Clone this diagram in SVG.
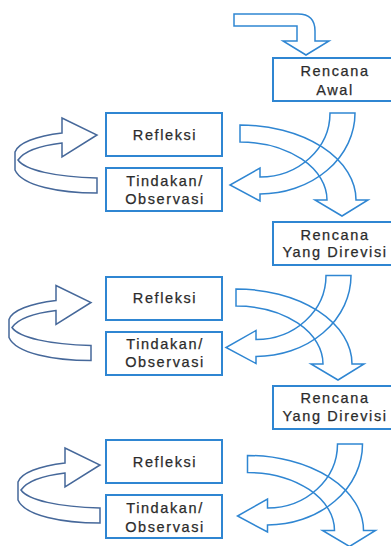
<svg xmlns="http://www.w3.org/2000/svg" width="391" height="546" viewBox="0 0 391 546">
<style>
.box{fill:#fff;stroke:#2f86d2;stroke-width:2}
.t{font-family:"Liberation Sans",Arial,sans-serif;font-size:14.5px;fill:#2b2b2b;stroke:#2b2b2b;stroke-width:0.25;text-anchor:middle;letter-spacing:1.6px}
.ar{fill:none;stroke:#2f86d2;stroke-width:1.5;stroke-linejoin:miter}
.lp{fill:none;stroke:#46689a;stroke-width:1.5;stroke-linejoin:miter}
</style>
<defs>
<path id="arrA" d="M240,125 A116,75 0 0 1 356,200 L368,200 L342,216 L315,200 L327,200 A87,58 0 0 0 240,142 Z"/>
<path id="arrB" d="M330,113 L355,113 A95,81 0 0 1 260,194 L260,201 L230,185 L260,168 L260,177 A70,64 0 0 0 330,113 Z"/>
<path id="loop" d="M62,133 C36,136 18,143 15,152 L15,170 C22,186 60,193 97,193 L97,178 C55,177 25,170 18,160 C25,150 45,145 62,143 L62,157 L97,135 L62,118 Z"/>
</defs>
<g id="connectors">
<path class="ar" d="M234,14 L298,14 Q315,14 315,31 L315,41 L329,41 L306,55 L283,41 L297,41 L297,26 L234,26 Z"/>
<use href="#arrA" class="ar"/>
<use href="#arrB" class="ar"/>
<use href="#loop" class="lp"/>
<use href="#arrA" class="ar" transform="translate(-4,164)"/>
<use href="#arrB" class="ar" transform="translate(-4,162.5)"/>
<use href="#loop" class="lp" transform="translate(-6,167.5)"/>
<use href="#arrA" class="ar" transform="translate(7.5,330.5)"/>
<use href="#arrB" class="ar" transform="translate(7.5,331)"/>
<use href="#loop" class="lp" transform="translate(3,330)"/>
</g>
<g id="rencana-awal">
<rect class="box" x="273" y="58" width="130" height="43"/>
<text class="t" x="335" y="76">Rencana</text>
<text class="t" x="335" y="95">Awal</text>
</g>
<g id="refleksi-1">
<rect class="box" x="106" y="113" width="116" height="43"/>
<text class="t" x="165" y="140">Refleksi</text>
</g>
<g id="tindakan-1">
<rect class="box" x="106" y="168" width="116" height="43"/>
<text class="t" x="165" y="186">Tindakan/</text>
<text class="t" x="165" y="204">Observasi</text>
</g>
<g id="rencana-2">
<rect class="box" x="273" y="222" width="130" height="43"/>
<text class="t" x="335" y="240">Rencana</text>
<text class="t" x="335" y="257">Yang Direvisi</text>
</g>
<g id="refleksi-2">
<rect class="box" x="106" y="277" width="116" height="43"/>
<text class="t" x="165" y="303">Refleksi</text>
</g>
<g id="tindakan-2">
<rect class="box" x="106" y="332" width="116" height="43"/>
<text class="t" x="165" y="349">Tindakan/</text>
<text class="t" x="165" y="367">Observasi</text>
</g>
<g id="rencana-3">
<rect class="box" x="273" y="386" width="130" height="43"/>
<text class="t" x="335" y="403">Rencana</text>
<text class="t" x="335" y="421">Yang Direvisi</text>
</g>
<g id="refleksi-3">
<rect class="box" x="106" y="440" width="116" height="43"/>
<text class="t" x="165" y="467">Refleksi</text>
</g>
<g id="tindakan-3">
<rect class="box" x="106" y="495" width="116" height="43"/>
<text class="t" x="165" y="513">Tindakan/</text>
<text class="t" x="165" y="532">Observasi</text>
</g>
</svg>
